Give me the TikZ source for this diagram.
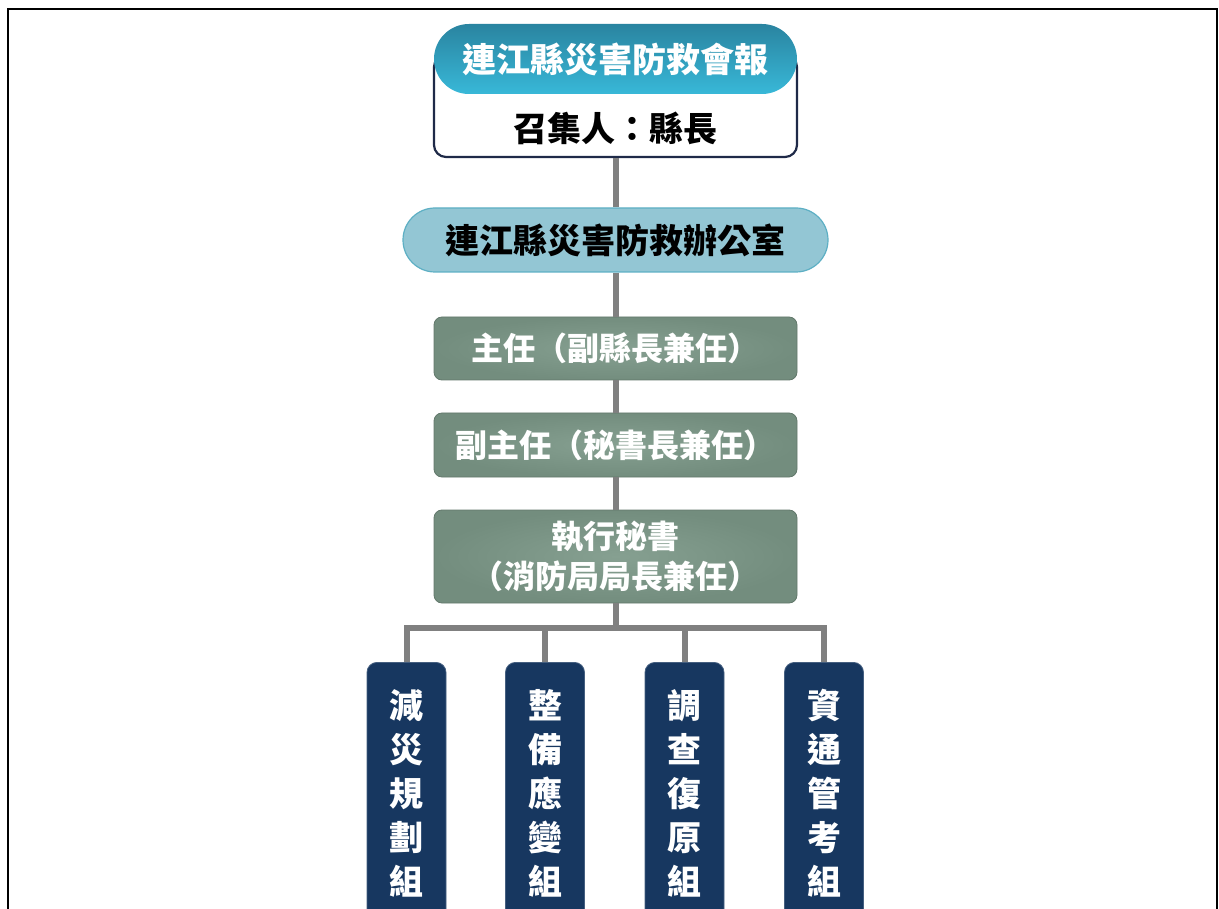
\documentclass[tikz,border=0pt]{standalone}
\usepackage{fontspec}
\newfontfamily\cjk{Noto Sans CJK TC}
\colorlet{line gray}{black!50}
\definecolor{head top}{HTML}{2A84A0}
\definecolor{head bottom}{HTML}{38B8D8}
\definecolor{office fill}{HTML}{93C6D4}
\definecolor{office edge}{HTML}{5DAFC4}
\definecolor{staff fill}{HTML}{738D7E}
\definecolor{staff light}{HTML}{86A091}
\definecolor{group fill}{HTML}{173760}
\definecolor{conv edge}{HTML}{1F2A48}
\tikzset{
    every node/.style={font=\cjk\bfseries},
    headbox/.style={shape=rectangle, rounded corners=35pt, minimum width=363pt,
        minimum height=70pt, top color=head top, bottom color=head bottom,
        text=white, font=\cjk\bfseries\fontsize{34}{40}\selectfont},
    convbox/.style={shape=rectangle, rounded corners=12pt, draw=conv edge, line width=2.2pt,
        fill=white, minimum width=363pt, minimum height=102pt},
    officebox/.style={shape=rectangle, rounded corners=32pt, draw=office edge, line width=1.2pt,
        fill=office fill, minimum width=425pt, minimum height=64pt,
        font=\cjk\bfseries\fontsize{34}{40}\selectfont},
    staffbox/.style={shape=rectangle, rounded corners=8pt, draw=staff fill!85!black, line width=0.8pt,
        inner color=staff light, outer color=staff fill, minimum width=363pt,
        text=white, align=center, font=\cjk\bfseries\fontsize{32}{40}\selectfont},
    groupbox/.style={shape=rectangle, rounded corners=10pt, fill=group fill, draw=group fill!80!white,
        line width=0.8pt, minimum width=79pt, minimum height=262pt, anchor=north,
        text=white, align=center, inner sep=0pt, font=\cjk\bfseries\fontsize{34}{44}\selectfont},
    link/.style={draw=line gray, line width=6pt}
}

\begin{document}
\begin{tikzpicture}[x=1pt,y=-1pt]
    \useasboundingbox (0,0) rectangle (1219,909);
    \begin{scope}
        \clip (0,0) rectangle (1219,909);
        \draw[line width=2.5pt] (8,915) |- (1217,9) -- (1217,915);

        % council
        \node[convbox] (convener) at (615.5,106) {};
        \node[headbox] (council) at (615.5,59) {連江縣災害防救會報};
        \node[font=\cjk\bfseries\fontsize{34}{40}\selectfont] (convener text) at (615.5,128) {召集人：縣長};

        % office and staff
        \node[officebox] (office) at (615.5,240) {連江縣災害防救辦公室};
        \node[staffbox, minimum height=63pt] (director) at (615.5,348.5) {主任（副縣長兼任）};
        \node[staffbox, minimum height=64pt] (deputy) at (615.5,445) {副主任（秘書長兼任）};
        \node[staffbox, minimum height=93pt] (secretary) at (615.5,556.5) {執行秘書\\（消防局局長兼任）};

        \coordinate (bus) at (615.5,628);

        % groups
        \node[groupbox] (mitigation) at (406.5,662) {減\\災\\規\\劃\\組};
        \node[groupbox] (response) at (545,662) {整\\備\\應\\變\\組};
        \node[groupbox] (recovery) at (684.5,662) {調\\查\\復\\原\\組};
        \node[groupbox] (comms) at (824,662) {資\\通\\管\\考\\組};
    \end{scope}
    % links
    \draw[link] (convener.south) -- (office.north);
    \draw[link] (office.south) -- (director.north);
    \draw[link] (director.south) -- (deputy.north);
    \draw[link] (deputy.south) -- (secretary.north);
    \draw[link] (secretary.south) -- (bus);
    \draw[link] (mitigation.north) |- (bus) -| (comms.north);
    \draw[link] (response.north) -- (response.north |- bus);
    \draw[link] (recovery.north) -- (recovery.north |- bus);
\end{tikzpicture}
\end{document}
